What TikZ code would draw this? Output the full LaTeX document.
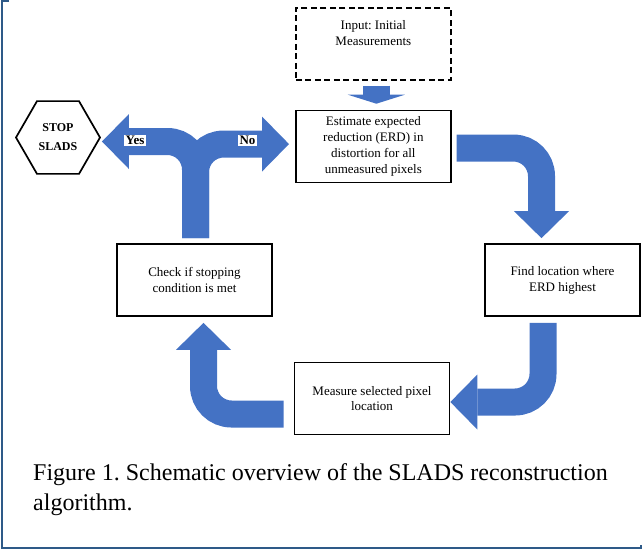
\documentclass[tikz,border=0pt]{standalone}
\usepackage{fontspec}
\setmainfont{Liberation Serif}
\usetikzlibrary{arrows.meta, positioning, shapes.geometric}
\definecolor{arrowblue}{HTML}{4472C4}
\definecolor{framecol}{HTML}{2E5A88}
\frenchspacing
\tikzset{%
    procbox/.style = {draw=black, rectangle, line width=1.7pt,
        minimum width=155pt, minimum height=72pt, align=center,
        font=\fontsize{13}{15.8}\selectfont},
    blockarrow/.style = {draw=arrowblue, line width=27pt, rounded corners=28pt,
        -{Triangle[width=55pt, length=27pt, line width=0pt]}},
    tag/.style = {fill=white, inner sep=1.5pt,
        font=\fontsize{13}{15}\selectfont\bfseries}
}

\begin{document}
\begin{tikzpicture}[x=1pt, y=-1pt]
    \useasboundingbox (0,0) rectangle (643,550);
    % frame round the figure
    \draw[framecol, line width=2pt] (9,1) -- (1.5,1) -- (1.5,548) -- (641,548) -- (641,545);

    \node [procbox, dash pattern=on 6pt off 3.5pt, anchor=north west] (input) at (295,7)
        {Input: Initial\\Measurements\\[6pt]\mbox{}};
    \node [procbox, below=29pt of input] (est)
        {Estimate expected\\reduction (ERD) in\\distortion for all\\unmeasured pixels};
    \node [procbox] (find) at (562.5,280) {Find location where\\ERD highest};
    \node [procbox] (meas) at (372,398.5) {Measure selected pixel\\location};
    \node [procbox] (check) at (194.5,280) {Check if stopping\\condition is met};
    \node [draw, line width=1.7pt, regular polygon, regular polygon sides=6,
        minimum size=84pt, inner sep=0pt, align=center,
        font=\fontsize{12}{19}\selectfont\bfseries] (stop) at (58,137.5) {STOP\\SLADS};

    % block arrows
    \draw[blockarrow, -{Triangle[width=57pt, length=9pt, line width=0pt]}]
        ([xshift=3pt, yshift=-5pt]input.south) -- ([xshift=3pt, yshift=6pt]est.north);
    \draw[blockarrow] ([xshift=5pt, yshift=-1.5pt]est.east) -| ([xshift=-21pt, yshift=5pt]find.north);
    \draw[blockarrow] ([xshift=-19.5pt, yshift=-6pt]find.south) |- ([yshift=-3.5pt]meas.east);
    \draw[blockarrow] ([xshift=-10pt, yshift=-15.5pt]meas.west) -| ([xshift=9pt, yshift=-6pt]check.south);
    \draw[blockarrow] ([xshift=1pt, yshift=5pt]check.north) |- ([xshift=-6pt, yshift=2.5pt]est.west);
    \draw[blockarrow] ([xshift=1pt, yshift=5pt]check.north) |- ([xshift=1pt, yshift=-4pt]stop.east);

    \node [tag] (yes) at (135,140.5) {Yes};
    \node [tag] (no) at (247.5,140.5) {No};

    \node [anchor=north west, align=left, inner sep=0pt,
        font=\fontsize{24}{29.5}\selectfont] (caption) at (33,463.5)
        {Figure 1. Schematic overview of the SLADS reconstruction\\algorithm.};
\end{tikzpicture}
\end{document}
